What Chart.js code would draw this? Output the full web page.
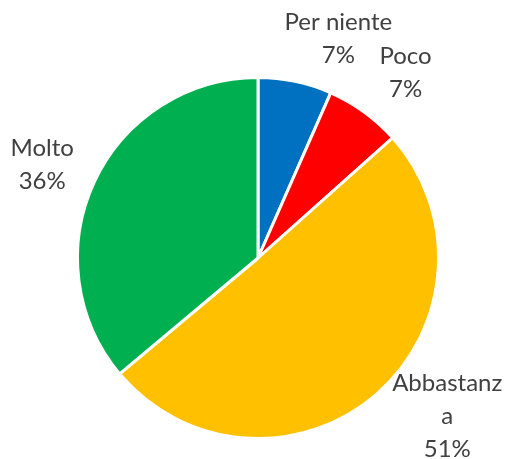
<!DOCTYPE html>
<html>
<head>
<meta charset="utf-8">
<script src="https://cdn.jsdelivr.net/npm/chart.js@4"></script>
<style>
html,body{margin:0;padding:0;background:#fff;}
#wrap{width:509px;height:459px;position:relative;}
</style>
</head>
<body>
<div id="wrap"><canvas id="c" width="509" height="459"></canvas></div>
<script>
const categories = ["Per niente", "Poco", "Abbastanza", "Molto"];
const labelLines = [["Per niente"], ["Poco"], ["Abbastanz", "a"], ["Molto"]];
const values = [6.6, 6.8, 50.5, 36.1];
const colors = ["#0070C0", "#FF0000", "#FFC000", "#00B050"];
const labelNudges = [[35, -3], [18, -7], [45, -9], [-16, 0]];

const labelPlugin = {
  id: 'outLabels',
  afterDatasetsDraw(chart) {
    const ctx = chart.ctx;
    const meta = chart.getDatasetMeta(0);
    ctx.save();
    ctx.font = '24px Lato, "Open Sans", sans-serif';
    ctx.fillStyle = '#404040';
    ctx.textAlign = 'center';
    ctx.textBaseline = 'middle';
    const lh = 33;
    meta.data.forEach((arc, i) => {
      const mid = (arc.startAngle + arc.endAngle) / 2;
      const d = arc.outerRadius + 40;
      const x = arc.x + Math.cos(mid) * d + labelNudges[i][0];
      const y = arc.y + Math.sin(mid) * d + labelNudges[i][1];
      const lines = labelLines[i].concat([Math.round(values[i]) + '%']);
      const y0 = y - (lines.length - 1) * lh / 2;
      lines.forEach((t, k) => ctx.fillText(t, x, y0 + k * lh));
    });
    ctx.restore();
  }
};

new Chart(document.getElementById('c'), {
  type: 'pie',
  data: {
    labels: categories,
    datasets: [{
      data: values,
      backgroundColor: colors,
      borderColor: '#ffffff',
      borderWidth: 3
    }]
  },
  options: {
    responsive: false,
    animation: false,
    layout: { padding: { left: 76, right: 69, top: 76, bottom: 19 } },
    plugins: { legend: { display: false }, tooltip: { enabled: false } }
  },
  plugins: [labelPlugin]
});
</script>
</body>
</html>
